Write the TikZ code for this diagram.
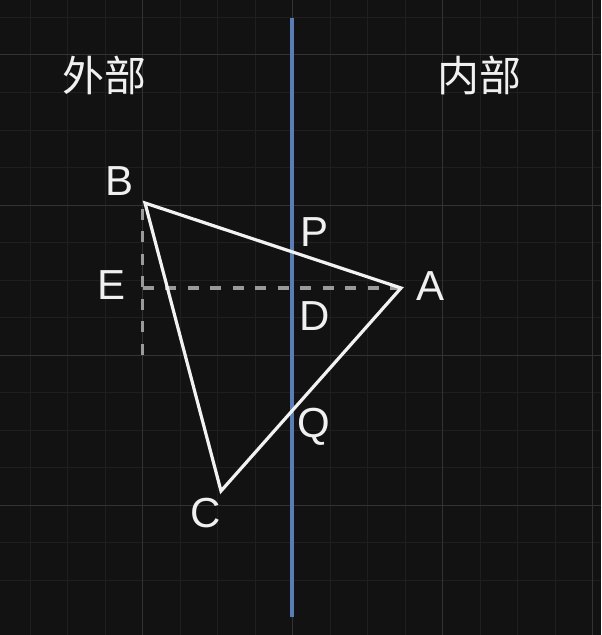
\documentclass[tikz,border=0pt]{standalone}
\usepackage{fontspec}
\setmainfont{Liberation Sans}
\newfontfamily\cjk{Noto Sans CJK SC}
\definecolor{bg}{HTML}{121212}
\definecolor{gridminor}{HTML}{1F1F1F}
\definecolor{gridmajor}{HTML}{333333}
\definecolor{axisblue}{HTML}{5A7DB5}
\definecolor{tri}{HTML}{F2F2F2}
\definecolor{dash}{HTML}{9A9A9A}
\definecolor{txt}{HTML}{F0F0F0}
\begin{document}
\begin{tikzpicture}[x=0.75pt,y=-0.75pt,
  lbl/.style={text=txt,inner sep=0pt,font=\fontsize{31.5}{36}\selectfont},
  cjklbl/.style={text=txt,inner sep=0pt,font=\cjk\fontsize{31.5}{36}\selectfont},
  triline/.style={draw=tri,line width=2.4pt,line join=miter},
  helper/.style={draw=dash,line width=2.4pt,dash pattern=on 8.3pt off 8.6pt},
  mirror/.style={draw=axisblue,line width=2.7pt}]
\fill[bg] (0,0) rectangle (601,635);
\useasboundingbox (0,0) rectangle (601,635);
% grid
\foreach \k in {0,...,15}{
  \draw[gridminor,line width=0.75pt] ({30+37.5*\k},0) -- ({30+37.5*\k},635);
  \draw[gridminor,line width=0.75pt] (0,{17.5+37.5*\k}) -- (601,{17.5+37.5*\k});
}
\foreach \x in {142.5,292.5,442.5,592.5}
  \draw[gridmajor,line width=0.75pt] (\x,0) -- (\x,635);
\foreach \y in {55,205,355,505}
  \draw[gridmajor,line width=0.75pt] (0,\y) -- (601,\y);
% points
\coordinate (mtop) at (292,18);
\coordinate (mbot) at (292,617);
\coordinate (B) at (145,203);
\coordinate (A) at (401,288);
\coordinate (C) at (221,491);
\coordinate (E) at (142.5,288);
\coordinate (Eb) at (142.5,355);
\coordinate (Bt) at (142.5,203);
% mirror line
\draw[mirror] (mtop) -- (mbot);
% helper dashed lines
\draw[helper] (Eb) -- (Bt);
\draw[helper] (E) -- (A);
% triangle
\draw[triline] (B) -- (A) -- (C) -- cycle;
% labels
\node[cjklbl] (out) at (104.5,75) {外部};
\node[cjklbl] (in) at (479.7,75) {内部};
\node[lbl] (lB) at (119.5,181) {B};
\node[lbl] (lE) at (112,285.5) {E};
\node[lbl] (lP) at (314.3,231.7) {P};
\node[lbl] (lD) at (314.5,316) {D};
\node[lbl] (lA) at (430.5,286.5) {A};
\node[lbl,anchor=base] (lQ) at (314,437) {Q};
\node[lbl] (lC) at (205.5,513) {C};
\end{tikzpicture}
\end{document}
